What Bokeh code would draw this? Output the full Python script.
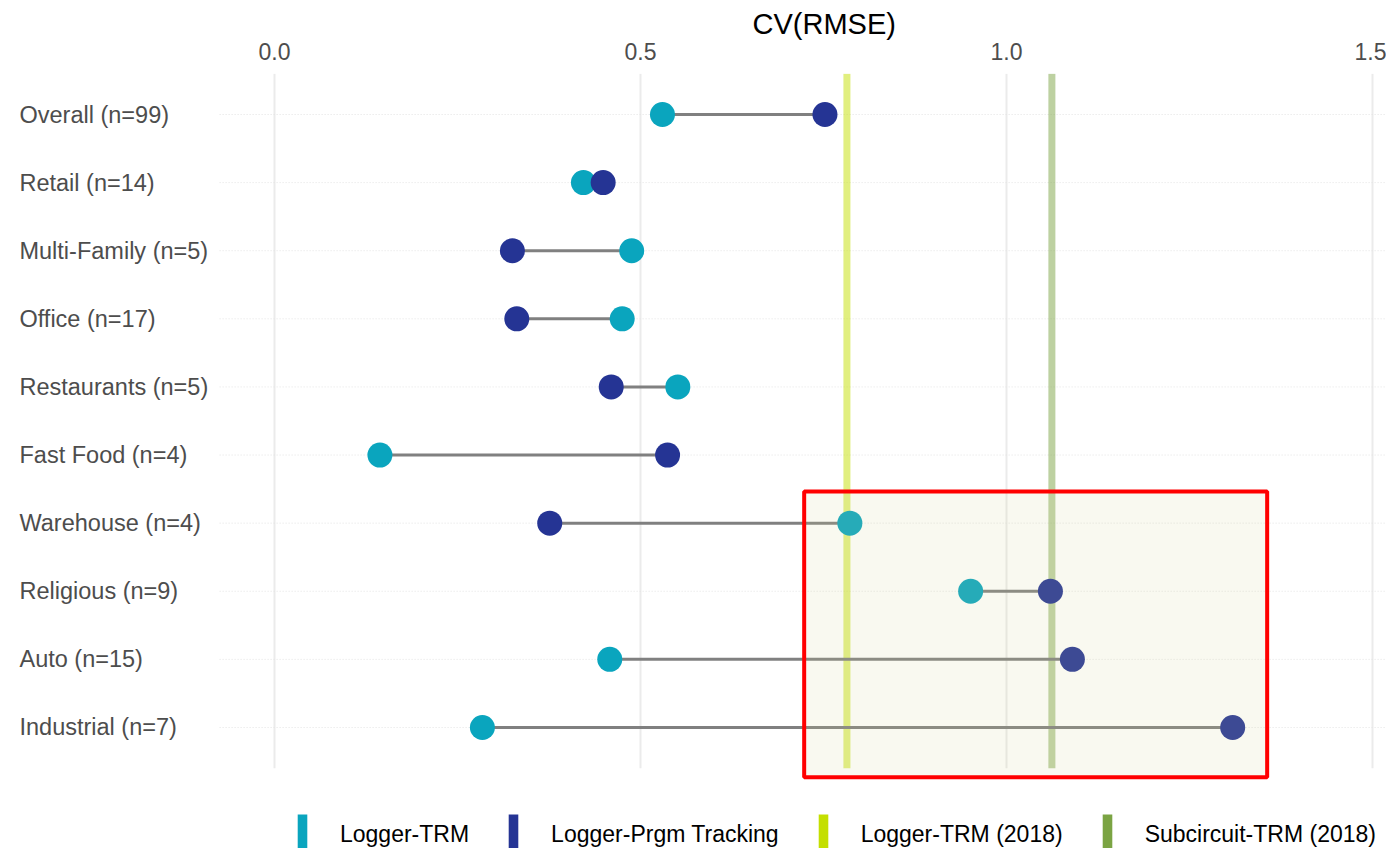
from bokeh.plotting import figure
from bokeh.models import Range1d, FixedTicker, NumeralTickFormatter, Legend, LegendItem, ColumnDataSource
from bokeh.core.properties import value
from bokeh.embed import file_html
from bokeh.resources import INLINE

# ---------------- data ----------------
categories = ["Overall (n=99)", "Retail (n=14)", "Multi-Family (n=5)", "Office (n=17)",
              "Restaurants (n=5)", "Fast Food (n=4)", "Warehouse (n=4)", "Religious (n=9)",
              "Auto (n=15)", "Industrial (n=7)"]
logger_trm = [0.530, 0.422, 0.488, 0.475, 0.551, 0.144, 0.786, 0.951, 0.458, 0.284]
logger_prgm_tracking = [0.752, 0.449, 0.325, 0.331, 0.460, 0.537, 0.376, 1.060, 1.090, 1.309]
ref_logger_trm_2018 = 0.782
ref_subcircuit_trm_2018 = 1.062
x_ticks = [0.0, 0.5, 1.0, 1.5]
legend_labels = ["Logger-TRM", "Logger-Prgm Tracking", "Logger-TRM (2018)", "Subcircuit-TRM (2018)"]

# highlight box (annotation bounds, data units)
box_left, box_right, box_top, box_bottom = 0.7236, 1.3561, 5.535, 9.73

# ---------------- styling ----------------
C_TRM = "#0AA5BE"
C_PRGM = "#253494"
C_Y2018 = "#C4DF00"
C_G2018 = "#7BA443"
FONT = "Liberation Sans"
NAN = float("nan")

rows = list(range(len(categories)))
panel_x0, panel_x1 = -0.075, 1.575
panel_y0, panel_y1 = -0.6, len(categories) - 1 + 0.6

p = figure(width=1386, height=848,
           x_range=Range1d(-0.37432, 1.51913), y_range=Range1d(10.777, -0.602),
           x_axis_location="above", y_axis_location=None,
           output_backend="svg", toolbar_location=None,
           min_border_left=0, min_border_right=0, min_border_bottom=0, min_border_top=73)
p.outline_line_color = None
p.xgrid.visible = False
p.ygrid.visible = False
p.background_fill_color = "white"

ax = p.xaxis[0]
ax.ticker = FixedTicker(ticks=x_ticks)
ax.formatter = NumeralTickFormatter(format="0.0")
ax.major_label_text_font_size = "23px"
ax.major_label_text_font = FONT
ax.major_label_text_color = "#4D4D4D"
ax.major_tick_line_color = None
ax.minor_tick_line_color = None
ax.axis_line_color = None
ax.major_label_standoff = 8

p.title.text = "CV(RMSE)"
p.title.align = "left"
p.title.offset = 752
p.title.text_font_size = "29px"
p.title.text_font = FONT
p.title.text_font_style = "normal"
p.title.text_color = "black"
p.title.standoff = 0

# gridlines (panel only)
p.segment(x0=x_ticks, x1=x_ticks, y0=[panel_y0] * len(x_ticks), y1=[panel_y1] * len(x_ticks),
          line_color="#EBEBEB", line_width=2)
p.segment(x0=[panel_x0] * len(rows), x1=[panel_x1] * len(rows), y0=rows, y1=rows,
          line_color="#E3E3E3", line_width=1, line_dash="1 2")

# reference vertical lines
p.segment(x0=[ref_logger_trm_2018], x1=[ref_logger_trm_2018], y0=[panel_y0], y1=[panel_y1],
          line_color=C_Y2018, line_alpha=0.5, line_width=7)
p.segment(x0=[ref_subcircuit_trm_2018], x1=[ref_subcircuit_trm_2018], y0=[panel_y0], y1=[panel_y1],
          line_color=C_G2018, line_alpha=0.5, line_width=7)

# dumbbells
src = ColumnDataSource(dict(cat=categories, row=rows, trm=logger_trm, prgm=logger_prgm_tracking))
p.segment(x0="trm", x1="prgm", y0="row", y1="row", source=src, line_color="#808080", line_width=3)
p.scatter(x="trm", y="row", source=src, size=25, fill_color=C_TRM, line_color=None)
p.scatter(x="prgm", y="row", source=src, size=25, fill_color=C_PRGM, line_color=None)

# category labels
p.text(x=[-0.3484] * len(rows), y=rows, text=categories, text_align="left", text_baseline="middle",
       text_font=value(FONT), text_font_size=value("23.5px"), text_color="#4D4D4D")

# highlight box
p.quad(left=[box_left], right=[box_right], top=[box_top], bottom=[box_bottom],
       fill_color="#D5D595", fill_alpha=0.14, line_color="#FF0000", line_width=4)

# legend (bar keys; key glyphs carry no drawable geometry)
key_renderers = []
for col in [C_TRM, C_PRGM, C_Y2018, C_G2018]:
    r = p.quad(left=[NAN], right=[NAN], top=[NAN], bottom=[NAN],
               fill_color=col, line_color=None)
    key_renderers.append(r)

legend = Legend(items=[LegendItem(label=lab, renderers=[r]) for lab, r in zip(legend_labels, key_renderers)],
                orientation="horizontal", location=(296, -11),
                glyph_width=12, glyph_height=50, label_standoff=32, spacing=38,
                padding=0, margin=0, border_line_color=None, background_fill_alpha=0,
                label_text_font_size="23px", label_text_font=FONT, label_text_color="black")
p.add_layout(legend, "center")

open("out.html", "w").write(file_html(p, INLINE))
